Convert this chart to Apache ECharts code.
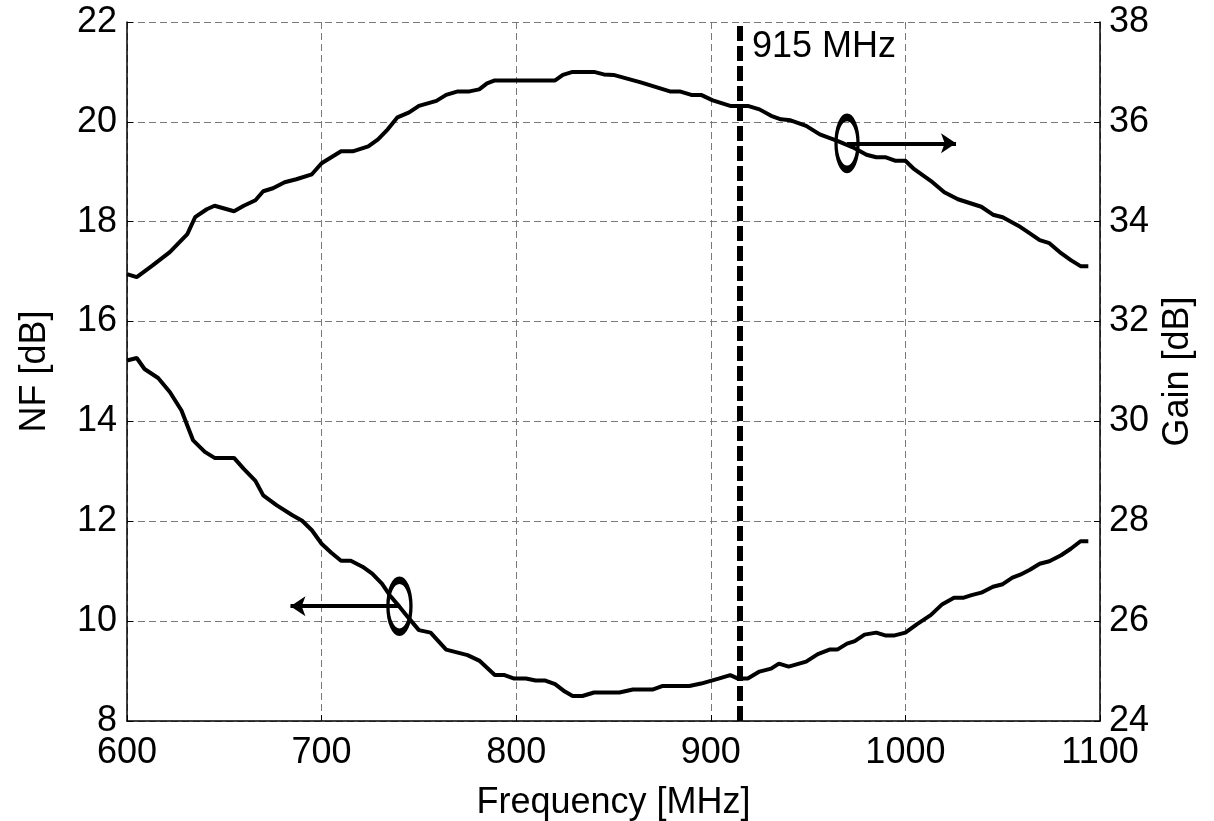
<!DOCTYPE html>
<html>
<head>
<meta charset="utf-8">
<script src="https://cdn.jsdelivr.net/npm/echarts@6/dist/echarts.min.js"></script>
<style>
  html, body { margin: 0; padding: 0; background: #fff; }
  #chart { width: 1214px; height: 821px; }
</style>
</head>
<body>
<div id="chart"></div>
<script>
// Gain curve (right axis)
const gainFreq = [600, 605, 613, 622, 631, 635, 641, 645, 655, 660,
  666, 670, 675, 681, 687, 695, 700, 705, 710, 716,
  724, 729, 734, 739, 745, 750, 759, 764, 770, 776,
  781, 785, 789, 820, 824, 829, 840, 845, 850, 864,
  879, 884, 890, 895, 901, 910, 919, 925, 931, 936,
  941, 949, 956, 965, 973, 980, 985, 990, 995, 1000,
  1004, 1013, 1020, 1027, 1039, 1045, 1050, 1058, 1063, 1069,
  1074, 1080, 1085, 1090, 1094];
const gainVal = [32.95, 32.89, 33.12, 33.39, 33.75, 34.09, 34.25, 34.32, 34.21, 34.32,
  34.43, 34.61, 34.67, 34.79, 34.85, 34.95, 35.17, 35.29, 35.41, 35.41,
  35.51, 35.65, 35.85, 36.09, 36.19, 36.32, 36.42, 36.54, 36.61, 36.61,
  36.65, 36.77, 36.83, 36.83, 36.94, 37.0, 37.0, 36.95, 36.94, 36.79,
  36.61, 36.61, 36.54, 36.54, 36.43, 36.32, 36.32, 36.25, 36.12, 36.05,
  36.03, 35.92, 35.75, 35.62, 35.49, 35.34, 35.29, 35.29, 35.22, 35.22,
  35.07, 34.82, 34.59, 34.45, 34.30, 34.14, 34.09, 33.92, 33.79, 33.63,
  33.57, 33.37, 33.23, 33.11, 33.11];

// NF curve (left axis)
const nfFreq = [600, 605, 609, 616, 622, 628, 634, 640, 645, 655,
  660, 666, 670, 677, 685, 690, 695, 700, 705, 710,
  715, 721, 726, 731, 735, 740, 745, 750, 756, 764,
  775, 781, 789, 794, 799, 805, 810, 815, 820, 825,
  829, 834, 840, 853, 860, 870, 875, 889, 895, 904,
  910, 914, 919, 925, 931, 935, 940, 949, 955, 961,
  965, 970, 974, 979, 985, 990, 994, 1000, 1006, 1013,
  1019, 1025, 1030, 1034, 1039, 1045, 1050, 1055, 1059, 1064,
  1069, 1074, 1080, 1085, 1090, 1094];
const nfVal = [15.22, 15.27, 15.05, 14.87, 14.59, 14.22, 13.62, 13.39, 13.27, 13.27,
  13.05, 12.81, 12.52, 12.32, 12.12, 12.01, 11.82, 11.55, 11.37, 11.21,
  11.21, 11.09, 10.95, 10.75, 10.52, 10.29, 10.05, 9.82, 9.77, 9.43,
  9.32, 9.21, 8.92, 8.92, 8.85, 8.85, 8.81, 8.81, 8.74, 8.59,
  8.5, 8.5, 8.57, 8.57, 8.63, 8.63, 8.70, 8.70, 8.75, 8.85,
  8.92, 8.85, 8.85, 8.99, 9.05, 9.15, 9.09, 9.19, 9.34, 9.43,
  9.43, 9.55, 9.60, 9.73, 9.77, 9.71, 9.71, 9.77, 9.94, 10.12,
  10.34, 10.47, 10.47, 10.52, 10.57, 10.69, 10.74, 10.87, 10.93, 11.03,
  11.15, 11.2, 11.32, 11.45, 11.6, 11.6];

// annotations
const markerFreq = 915;
const markerLabel = "915 MHz";
const gainLoop = [970, 35.57];       // ellipse around gain curve
const gainArrowEnd = [1026, 35.57];
const nfLoop = [740, 10.3];          // ellipse around NF curve
const nfArrowEnd = [684, 10.3];

const font = "Liberation Sans, Arial, sans-serif";
// drawn at its real size so the stroke is not scaled down
const ellipse = "path://M0,26 C0,11 5,0 11,0 C17,0 22,11 22,26 C22,41 17,52 11,52 C5,52 0,41 0,26 Z";

function zip(xs, ys) {
  return xs.map(function (x, i) { return [x, ys[i]]; });
}

let chart = echarts.init(document.getElementById("chart"));

const gridLine = { show: true, lineStyle: { color: "#7a7a7a", width: 1, type: [7, 4] } };
const axisLine = { show: true, lineStyle: { color: "#000", width: 1.5 } };
const tickLabel = {
  color: "#000",
  fontSize: 36,
  fontFamily: font,
  formatter: function (v) { return String(v); },
};
const nameStyle = { color: "#000", fontSize: 36, fontFamily: font };

let option = {
  backgroundColor: "#fff",
  animation: false,
  grid: {
    left: 127, right: 114, top: 22, bottom: 100,
    containLabel: false,
    outerBoundsMode: "none",
  },
  xAxis: {
    type: "value",
    min: 600,
    max: 1100,
    interval: 100,
    name: "Frequency [MHz]",
    nameLocation: "middle",
    nameGap: 64,
    nameTextStyle: nameStyle,
    axisLine: axisLine,
    axisTick: { show: true, inside: true, length: 6, lineStyle: { color: "#000" } },
    axisLabel: Object.assign({ margin: 14 }, tickLabel),
    splitLine: gridLine,
  },
  yAxis: [
    {
      type: "value",
      min: 8,
      max: 22,
      interval: 2,
      name: "NF [dB]",
      nameLocation: "middle",
      nameGap: 74,
      nameRotate: 90,
      nameTextStyle: nameStyle,
      axisLine: axisLine,
      axisTick: { show: true, inside: true, length: 6, lineStyle: { color: "#000" } },
      axisLabel: Object.assign({ margin: 10 }, tickLabel),
      splitLine: gridLine,
    },
    {
      type: "value",
      min: 24,
      max: 38,
      interval: 2,
      name: "Gain [dB]",
      nameLocation: "middle",
      nameGap: 58,
      nameRotate: 90,
      nameTextStyle: nameStyle,
      axisLine: axisLine,
      axisTick: { show: true, inside: true, length: 6, lineStyle: { color: "#000" } },
      axisLabel: Object.assign({ margin: 9 }, tickLabel),
      splitLine: { show: false },
    },
  ],
  series: [
    {
      name: "NF",
      type: "line",
      yAxisIndex: 0,
      data: zip(nfFreq, nfVal),
      symbol: "none",
      lineStyle: { color: "#000", width: 4 },
      z: 3,
      markLine: {
        silent: true,
        symbol: ["none", "none"],
        label: { show: false },
        lineStyle: { color: "#000", width: 6, type: [15, 5] },
        data: [{ xAxis: markerFreq }],
      },
      markPoint: {
        silent: true,
        data: [
          {
            coord: nfLoop,
            symbol: ellipse,
            symbolSize: [23, 52],
            itemStyle: { color: "rgba(0,0,0,0)", borderColor: "#000", borderWidth: 5 },
            label: { show: false },
          },
          {
            coord: [markerFreq, 21.5],
            symbol: "circle",
            symbolSize: 0,
            label: {
              show: true,
              position: "right",
              distance: 12,
              formatter: markerLabel,
              color: "#000",
              fontSize: 36,
              fontFamily: font,
            },
          },
        ],
      },
    },
    {
      name: "NF arrow",
      type: "line",
      yAxisIndex: 0,
      data: [],
      markLine: {
        silent: true,
        symbol: ["none", "arrow"],
        symbolSize: 15,
        label: { show: false },
        lineStyle: { color: "#000", width: 4, type: "solid" },
        data: [[{ coord: nfLoop }, { coord: nfArrowEnd }]],
      },
    },
    {
      name: "Gain",
      type: "line",
      yAxisIndex: 1,
      data: zip(gainFreq, gainVal),
      symbol: "none",
      lineStyle: { color: "#000", width: 4 },
      z: 3,
      markLine: {
        silent: true,
        symbol: ["none", "arrow"],
        symbolSize: 15,
        label: { show: false },
        lineStyle: { color: "#000", width: 4, type: "solid" },
        data: [[{ coord: gainLoop }, { coord: gainArrowEnd }]],
      },
      markPoint: {
        silent: true,
        data: [
          {
            coord: gainLoop,
            symbol: ellipse,
            symbolSize: [22, 52],
            itemStyle: { color: "rgba(0,0,0,0)", borderColor: "#000", borderWidth: 5 },
            label: { show: false },
          },
        ],
      },
    },
  ],
};

chart.setOption(option);

window.addEventListener("resize", function () {
  chart.resize();
});
</script>
</body>
</html>
